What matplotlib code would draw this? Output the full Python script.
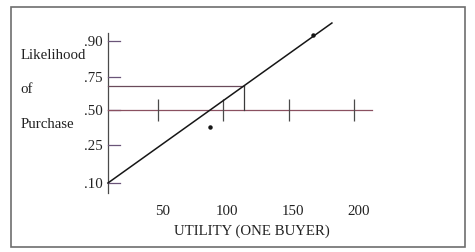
import numpy as np
import matplotlib
matplotlib.use("Agg")
import matplotlib.pyplot as plt
from matplotlib.patches import Rectangle

# likelihood ticks as lettered on the drawing
y_ticks = [0.10, 0.25, 0.50, 0.75, 0.90]
y_tick_labels = [".10", ".25", ".50", ".75", ".90"]

# utility ticks
x_ticks = [50, 100, 150, 200]
x_tick_labels = ["50", "100", "150", "200"]

# the straight line relating utility and likelihood
line_utility = [11.7, 183.1]
line_likelihood = [0.10, 0.975]

# two observed buyers
point_utility = [89.8, 168.6]
point_likelihood = [0.379, 0.925]

# reading off the line
read_utility = 115.8
read_likelihood = 0.682

# extent of the axes lines
axis_utility = [11.7, 213.7]
axis_likelihood = [0.06, 0.933]
base_likelihood = 0.50

# the hand drawn y axis is not evenly spaced, so map the lettered
# values onto their drawn heights (extended a bit past both ends)
anchor_v = np.array([-0.5, 0.10, 0.25, 0.50, 0.75, 0.90, 1.5])
anchor_h = np.array([-152.0, 0.0, 38.0, 73.0, 106.0, 142.0, 286.0])


def forward(v):
    return np.interp(v, anchor_v, anchor_h)


def inverse(h):
    return np.interp(h, anchor_h, anchor_v)


W, H = 475, 252
fig = plt.figure(figsize=(W / 100, H / 100), dpi=100)
fig.patch.set_facecolor("white")
ax = fig.add_axes([0, 0, 1, 1])
ax.set_yscale("function", functions=(forward, inverse))
ax.set_xlim(-70.9, 292.6)
ax.set_ylim(inverse(-69.0), inverse(183.0))
ax.axis("off")

serif = ["Liberation Serif", "DejaVu Serif"]
ink = "#222222"
fs = 10.7

# outer frame
fig.patches.append(Rectangle((11 / W, 1 - 247 / H), 454 / W, 240 / H,
                             transform=fig.transFigure, fill=False,
                             edgecolor="#6e6e6e", linewidth=1.2))

# y axis with short ticks to the right
ax.plot([axis_utility[0], axis_utility[0]], axis_likelihood, color="#4a4a4a", lw=0.9)
for v, lab in zip(y_ticks, y_tick_labels):
    ax.plot([axis_utility[0], axis_utility[0] + 9.2], [v, v], color="#6a5478", lw=0.9)
    ax.annotate(lab, (axis_utility[0], v), xytext=(-4, 0), textcoords="offset points",
                ha="right", va="center_baseline", fontsize=fs, family=serif, color=ink)

# the .50 line acting as utility axis
ax.plot(axis_utility, [base_likelihood, base_likelihood], color="#8a5060", lw=0.9)
ax.plot(x_ticks, [base_likelihood] * len(x_ticks), ls="none", marker="|",
        markersize=16.5, markeredgewidth=0.9, color="#4a4a4a")
for u, lab in zip(x_ticks, x_tick_labels):
    ax.annotate(lab, (u, inverse(-27.0)), xytext=(3, 0), textcoords="offset points",
                ha="center", va="center_baseline", fontsize=fs, family=serif, color=ink)

# reading lines
ax.plot([axis_utility[0], read_utility], [read_likelihood, read_likelihood],
        color="#6a4a5a", lw=0.9)
ax.plot([read_utility, read_utility], [read_likelihood, base_likelihood],
        color="#3a3a3a", lw=0.9)

# fitted line and points
ax.plot(line_utility, line_likelihood, color="#161616", lw=1.1)
ax.plot(point_utility, point_likelihood, ls="none", marker="o", markersize=2.2,
        color="#161616")

# labels
ax.text(122, inverse(-47.0), "UTILITY (ONE BUYER)", ha="center", va="center_baseline",
        fontsize=fs, family=serif, color=ink)
for txt, y in zip(["Likelihood", "of", "Purchase"], [59, 93, 128]):
    fig.text(20.5 / W, 1 - y / H, txt, ha="left", va="baseline",
             fontsize=fs, family=serif, color=ink)

fig.savefig("out.png", dpi=100, facecolor="white")
